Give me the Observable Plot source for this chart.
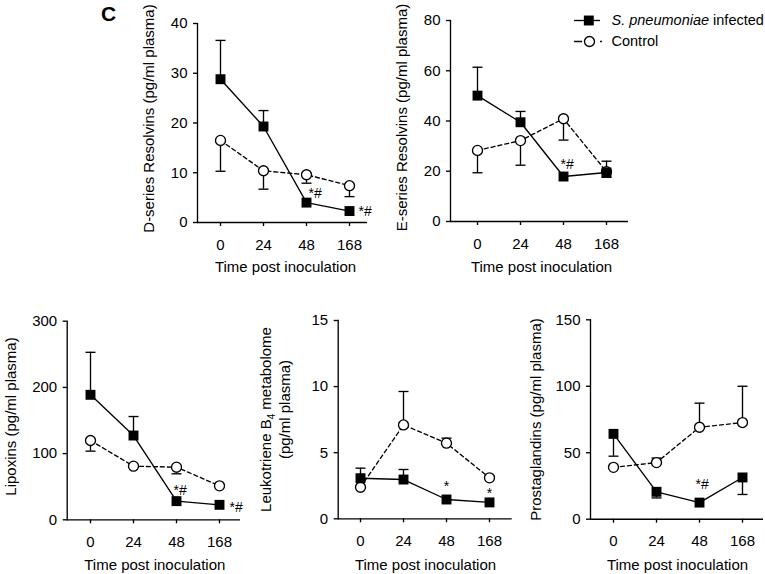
<!DOCTYPE html>
<html><head><meta charset="utf-8">
<script src="https://cdn.jsdelivr.net/npm/d3@7"></script>
<script src="https://cdn.jsdelivr.net/npm/@observablehq/plot@0.6"></script>
<style>
html,body{margin:0;padding:0;background:#fff;}
#wrap{position:relative;width:765px;height:574px;overflow:hidden;background:#fff;}
</style></head>
<body><div id="wrap"></div>
<script>
// ---------------- DATA ----------------
const times = ["0", "24", "48", "168"];
const xTitle = "Time post inoculation";
const seriesNames = ["S. pneumoniae infected", "Control"];

// D-series Resolvins
const dResInf = [28.8, 19.3, 4.0, 2.3];
const dResInfErr = [36.6, 22.5, null, null];
const dResCtl = [16.5, 10.4, 9.6, 7.4];
const dResCtlErr = [10.3, 6.7, 7.9, 5.2];
const dResTicks = [0, 10, 20, 30, 40];

// E-series Resolvins
const eResInf = [50.1, 39.5, 17.9, 19.5];
const eResInfErr = [61.4, 43.8, null, 24.0];
const eResCtl = [28.3, 32.2, 40.9, 19.8];
const eResCtlErr = [19.4, 22.4, 32.4, 17.6];
const eResTicks = [0, 20, 40, 60, 80];

// Lipoxins
const lxInf = [188.8, 127.3, 28.2, 22.6];
const lxInfErr = [253, 156, null, null];
const lxCtl = [119.8, 81, 79.5, 51.3];
const lxCtlErr = [103.7, null, 69.5, null];
const lxTicks = [0, 100, 200, 300];

// Leukotriene B4 metabolome
const ltInf = [3.07, 2.97, 1.46, 1.24];
const ltInfErr = [3.83, 3.73, null, null];
const ltCtl = [2.39, 7.1, 5.72, 3.1];
const ltCtlErr = [null, 9.63, 6.1, null];
const ltTicks = [0, 5, 10, 15];

// Prostaglandins
const pgInf = [64.2, 20.6, 12.5, 31.4];
const pgInfErr = [47.4, 16, null, 18.6];
const pgCtl = [39, 42.6, 69.2, 72.7];
const pgCtlErr = [null, 46, 87.3, 100];
const pgTicks = [0, 50, 100, 150];

const yTitles = [
  ["D-series Resolvins (pg/ml plasma)"],
  ["E-series Resolvins (pg/ml plasma)"],
  ["Lipoxins (pg/ml plasma)"],
  ["Leukotriene B4 metabolome", "(pg/ml plasma)"],
  ["Prostaglandins (pg/ml plasma)"]
];

// significance marks
const notePanel = [0, 0, 1, 2, 2, 3, 3, 4];
const noteTime  = ["48", "168", "48", "48", "168", "48", "168", "48"];
const noteY     = [5.9, 2.3, 22.6, 44, 18, 2.45, 1.95, 26];
const noteText  = ["*#", "*#", "*#", "*#", "*#", "*", "*", "*#"];

// ---------------- LAYOUT ----------------
const FONT = "'Liberation Sans', Arial, Helvetica, sans-serif";
const layouts = [
  {left:100, top:0,   width:280, height:290, fL:197,   fR:367,   fT:23,    fB:222,   t0:219,   t3:349,   tx:285,   ty:266.7, ytx:148.3, yty:118},
  {left:380, top:0,   width:260, height:290, fL:450,   fR:628,   fT:20,    fB:221,   t0:475.7, t3:606.7, tx:541,   ty:266.7, ytx:401.7, yty:117},
  {left:0,   top:290, width:260, height:284, fL:66.7,  fR:240,   fT:320.7, fB:519.3, t0:89,    t3:219.3, tx:154.3, ty:565,   ytx:11,    yty:416},
  {left:255, top:290, width:265, height:284, fL:337.7, fR:511.7, fT:320,   fB:518.3, t0:359.7, t3:490,   tx:425,   ty:565,   ytx:275.5, yty:419},
  {left:520, top:290, width:245, height:284, fL:590,   fR:763,   fT:319.3, fB:518.7, t0:611.7, t3:742.3, tx:677,   ty:565,   ytx:535.8, yty:419}
];
const titleLineDy = [[0], [0], [0], [0, -10], [0]];
const noteDx = [2, 9, -3, -3, 10, 0, 0, -4];
const noteAnchor = ["start", "start", "start", "start", "start", "middle", "middle", "start"];

const panelData = [
  {inf:dResInf, infErr:dResInfErr, ctl:dResCtl, ctlErr:dResCtlErr, ticks:dResTicks},
  {inf:eResInf, infErr:eResInfErr, ctl:eResCtl, ctlErr:eResCtlErr, ticks:eResTicks},
  {inf:lxInf, infErr:lxInfErr, ctl:lxCtl, ctlErr:lxCtlErr, ticks:lxTicks},
  {inf:ltInf, infErr:ltInfErr, ctl:ltCtl, ctlErr:ltCtlErr, ticks:ltTicks},
  {inf:pgInf, infErr:pgInfErr, ctl:pgCtl, ctlErr:pgCtlErr, ticks:pgTicks}
];

const wrap = document.getElementById("wrap");
const SW = 1.35;
// horizontal cap symbol for error bars
const capSymbol = {draw(ctx) { ctx.moveTo(-5, 0); ctx.lineTo(5, 0); }};

function makePanel(p) {
  const L = layouts[p], D = panelData[p];
  const rows = times.map((t, i) => ({t, inf: D.inf[i], infErr: D.infErr[i], ctl: D.ctl[i], ctlErr: D.ctlErr[i]}));
  const mL = L.fL - L.left, mR = L.left + L.width - L.fR, mT = L.fT - L.top, mB = L.top + L.height - L.fB;
  const frameW = L.fR - L.fL, step = (L.t3 - L.t0) / 3, leftover = frameW - 3 * step;
  const padding = leftover / (2 * step), align = (L.t0 - L.fL) / leftover;
  const notes = notePanel.map((q, i) => ({q, i, t: noteTime[i], y: noteY[i], text: noteText[i]})).filter(d => d.q === p);
  const ymax = D.ticks[D.ticks.length - 1];
  const ctlE = rows.filter(d => d.ctlErr != null), infE = rows.filter(d => d.infErr != null);
  const marks = [
    Plot.axisY({ticks: D.ticks, tickSize: 4, tickPadding: 6, fontSize: 15, label: null, strokeWidth: SW, tickFormat: d => String(d)}),
    Plot.axisX({tickSize: 4, tickPadding: 12.5, fontSize: 15, label: null, strokeWidth: SW}),
    Plot.ruleY([0], {strokeWidth: SW}),
    Plot.frame({anchor: "left", strokeWidth: SW}),
    // error bars
    Plot.ruleX(ctlE, {x: "t", y1: "ctl", y2: "ctlErr", strokeWidth: SW}),
    Plot.dot(ctlE, {x: "t", y: "ctlErr", symbol: capSymbol, fill: "none", stroke: "black", strokeWidth: SW}),
    Plot.ruleX(infE, {x: "t", y1: "inf", y2: "infErr", strokeWidth: SW}),
    Plot.dot(infE, {x: "t", y: "infErr", symbol: capSymbol, fill: "none", stroke: "black", strokeWidth: SW}),
    // lines
    Plot.line(rows, {x: "t", y: "ctl", strokeWidth: SW, strokeDasharray: "4,3"}),
    Plot.line(rows, {x: "t", y: "inf", strokeWidth: SW}),
    Plot.dot(rows, {x: "t", y: "ctl", r: 5, fill: "white", stroke: "black", strokeWidth: SW}),
    Plot.dot(rows, {x: "t", y: "inf", symbol: "square", r: 5.6, fill: "black", stroke: "none"}),
    // x title
    Plot.text([xTitle], {frameAnchor: "bottom", textAnchor: "middle", lineAnchor: "middle", dx: L.tx - (L.fL + L.fR) / 2, dy: L.ty - L.fB, fontSize: 15})
  ];
  notes.forEach(n => marks.push(Plot.text([n], {x: "t", y: "y", text: "text", dx: noteDx[n.i], textAnchor: noteAnchor[n.i], lineAnchor: "middle", fontSize: 14})));
  const titleLines = yTitles[p], lineGap = 19;
  titleLines.forEach((line, k) => {
    const off = (k - (titleLines.length - 1) / 2) * lineGap;
    marks.push(Plot.text([line], {frameAnchor: "left", textAnchor: "middle", lineAnchor: "middle", rotate: -90, dx: L.ytx + off - L.fL, dy: L.yty + titleLineDy[p][k] - (L.fT + L.fB) / 2, fontSize: 15}));
  });
  if (p === 0) marks.push(Plot.text(["C"], {frameAnchor: "top-left", textAnchor: "middle", lineAnchor: "middle", dx: 108 - L.fL, dy: 14 - L.fT, fontSize: 21, fontWeight: "bold"}));
  const svg = Plot.plot({
    width: L.width, height: L.height,
    marginLeft: mL, marginRight: mR, marginTop: mT, marginBottom: mB,
    style: {fontFamily: FONT, fontSize: "15px", color: "#000", background: "transparent", overflow: "visible"},
    x: {type: "point", domain: times, padding, align, axis: null},
    y: {domain: [0, ymax], axis: null},
    marks
  });
  svg.style.position = "absolute";
  svg.style.left = L.left + "px";
  svg.style.top = L.top + "px";
  wrap.appendChild(svg);
  return svg;
}

for (let p = 0; p < 5; p++) makePanel(p);

const NS = "http://www.w3.org/2000/svg";
// subscript in leukotriene title
wrap.querySelectorAll("text").forEach(t => {
  if (t.textContent === "Leukotriene B4 metabolome") {
    t.textContent = "";
    const a = document.createElementNS(NS, "tspan"); a.textContent = "Leukotriene B";
    const b = document.createElementNS(NS, "tspan"); b.textContent = "4"; b.setAttribute("font-size", "10"); b.setAttribute("dy", "4");
    const c = document.createElementNS(NS, "tspan"); c.textContent = " metabolome"; c.setAttribute("dy", "-4");
    t.append(a, b, c);
  }
});

// legend
{
  const legW = 205, legH = 60, legLeft = 560;
  const legRows = seriesNames.map(n => ({n}));
  const svg = Plot.plot({
    width: legW, height: legH, marginLeft: 0, marginRight: 0, marginTop: 9.2, marginBottom: 7.4,
    style: {fontFamily: FONT, fontSize: "14.5px", color: "#000", background: "transparent", overflow: "visible"},
    y: {type: "point", domain: seriesNames, padding: 0.5, axis: null},
    marks: [
      Plot.ruleY([seriesNames[0]], {y: d => d, insetLeft: 14, insetRight: legW - 40, strokeWidth: SW}),
      Plot.ruleY([seriesNames[1]], {y: d => d, insetLeft: 14, insetRight: legW - 42, strokeWidth: SW, strokeDasharray: "8,18,2,10"}),
      Plot.dot([seriesNames[0]], {y: d => d, frameAnchor: "left", dx: 28.3, symbol: "square", r: 5.6, fill: "black", stroke: "none"}),
      Plot.dot([seriesNames[1]], {y: d => d, frameAnchor: "left", dx: 29, r: 5, fill: "white", stroke: "black", strokeWidth: SW}),
      Plot.text(legRows, {y: "n", text: "n", frameAnchor: "left", dx: 51, textAnchor: "start", lineAnchor: "middle", fontSize: 14.5})
    ]
  });
  svg.style.position = "absolute";
  svg.style.left = legLeft + "px";
  svg.style.top = "0px";
  wrap.appendChild(svg);
  svg.querySelectorAll("text").forEach(t => {
    if (t.textContent === "S. pneumoniae infected") {
      t.textContent = "";
      const a = document.createElementNS(NS, "tspan"); a.textContent = "S. pneumoniae"; a.setAttribute("font-style", "italic");
      const b = document.createElementNS(NS, "tspan"); b.textContent = " infected";
      t.append(a, b);
    }
  });
}
</script></body></html>
